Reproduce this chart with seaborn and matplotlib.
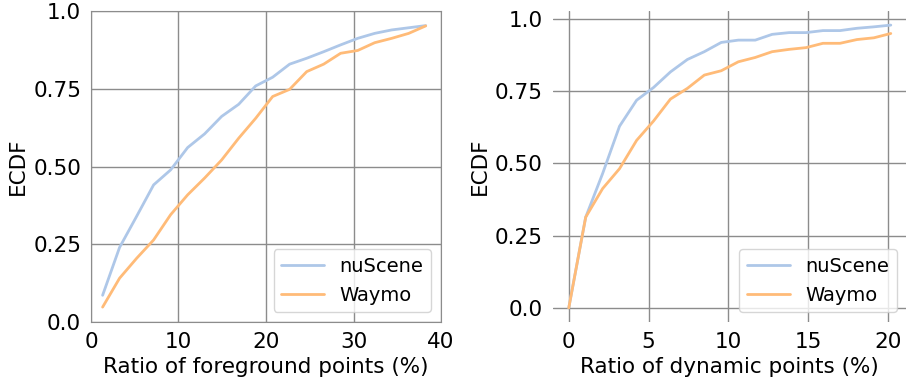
import matplotlib
matplotlib.use("Agg")
import matplotlib.pyplot as plt
import seaborn as sns
import pandas as pd

# foreground-point ratio ECDF (left panel)
fg_x = [1.33, 3.27, 5.22, 7.16, 9.10, 11.05, 12.99, 14.93, 16.88, 18.82,
        20.76, 22.70, 24.65, 26.59, 28.53, 30.48, 32.42, 34.36, 36.31, 38.25]
fg_nuscene = [0.086, 0.24, 0.34, 0.441, 0.489, 0.561, 0.605, 0.661, 0.700, 0.759,
              0.787, 0.829, 0.848, 0.869, 0.891, 0.912, 0.928, 0.939, 0.946, 0.953]
fg_waymo = [0.048, 0.141, 0.205, 0.264, 0.345, 0.409, 0.463, 0.521, 0.591, 0.655,
            0.725, 0.748, 0.805, 0.829, 0.864, 0.873, 0.898, 0.912, 0.928, 0.952]

# dynamic-point ratio ECDF (right panel)
dyn_x = [0.0, 1.06, 2.12, 3.18, 4.25, 5.31, 6.37, 7.43, 8.49, 9.55,
         10.62, 11.68, 12.74, 13.80, 14.86, 15.92, 16.99, 18.05, 19.11, 20.17]
dyn_nuscene = [0.0, 0.314, 0.465, 0.629, 0.719, 0.763, 0.817, 0.860, 0.887, 0.919,
               0.927, 0.927, 0.947, 0.953, 0.953, 0.960, 0.960, 0.968, 0.973, 0.979]
dyn_waymo = [0.0, 0.314, 0.413, 0.482, 0.580, 0.647, 0.723, 0.760, 0.806, 0.821,
             0.852, 0.867, 0.887, 0.895, 0.901, 0.916, 0.916, 0.929, 0.935, 0.950]

datasets = ["nuScene", "Waymo"]
colors = {"nuScene": "#aec7e8", "Waymo": "#ffbb78"}


def to_frame(x, a, b):
    return pd.DataFrame({
        "x": list(x) + list(x),
        "ECDF": list(a) + list(b),
        "dataset": [datasets[0]] * len(a) + [datasets[1]] * len(b),
    })


sns.set_style("whitegrid", {"grid.color": "0.55", "axes.edgecolor": "0.55",
                            "text.color": "black", "axes.labelcolor": "black"})
plt.rcParams["font.family"] = ["DejaVu Sans"]
plt.rcParams["font.size"] = 15.5

fig, (ax1, ax2) = plt.subplots(1, 2, figsize=(9.06, 3.78), dpi=100)
ax1.set_position([0.1004, 0.148, 0.3864, 0.823])
ax2.set_position([0.610, 0.148, 0.391, 0.823])

sns.lineplot(data=to_frame(fg_x, fg_nuscene, fg_waymo), x="x", y="ECDF",
             hue="dataset", palette=colors, linewidth=2, ax=ax1)
ax1.set_xlim(0, 40)
ax1.set_ylim(0, 1)
ax1.set_xticks([0, 10, 20, 30, 40])
ax1.set_yticks([0, 0.25, 0.5, 0.75, 1.0], ["0.0", "0.25", "0.50", "0.75", "1.0"])
ax1.set_xlabel("Ratio of foreground points (%)", fontsize=15.5)

sns.lineplot(data=to_frame(dyn_x, dyn_nuscene, dyn_waymo), x="x", y="ECDF",
             hue="dataset", palette=colors, linewidth=2, ax=ax2)
ax2.set_xticks([0, 5, 10, 15, 20])
ax2.set_yticks([0, 0.25, 0.5, 0.75, 1.0], ["0.0", "0.25", "0.50", "0.75", "1.0"])
ax2.set_xlabel("Ratio of dynamic points (%)", fontsize=15.5)
sns.despine(ax=ax2, left=True, bottom=True)

for ax in (ax1, ax2):
    ax.set_ylabel("ECDF", fontsize=15.5)
    ax.tick_params(labelsize=15.5, colors="black")
    ax.grid(True, linewidth=1.0)
    leg = ax.legend(loc="lower right", fontsize=14, title=None, handlelength=2.2)
    for t in leg.get_texts():
        t.set_color("black")

fig.savefig("out.png", dpi=100)
